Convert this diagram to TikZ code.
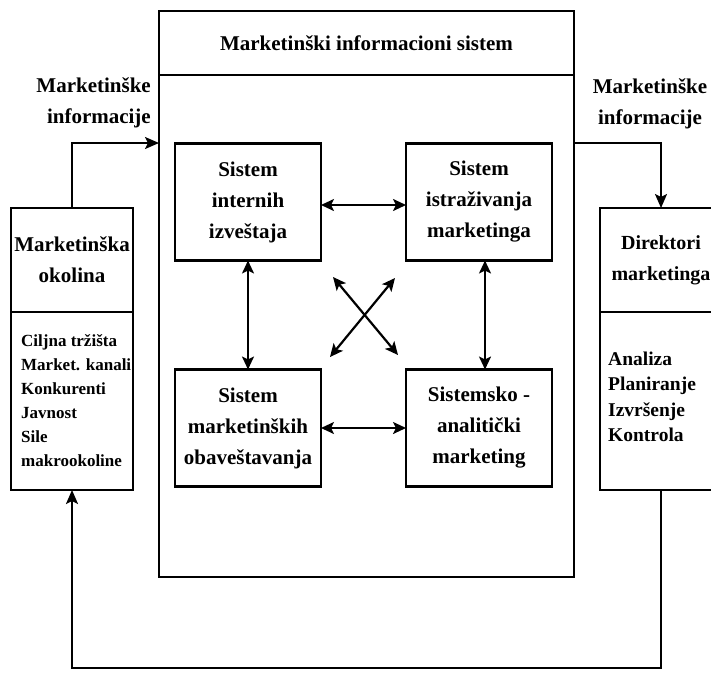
\documentclass[tikz,border=0pt]{standalone}
\usepackage{fontspec}
\setmainfont{Liberation Serif}
\usetikzlibrary{arrows.meta,positioning}

\begin{document}
\begin{tikzpicture}[
    x=1pt,y=-1pt,
    box/.style={draw=black,line width=2.4pt,inner sep=0pt,outer sep=0pt,align=center,font=\bfseries\fontsize{21}{31}\selectfont},
    sys/.style={box,minimum width=146pt,minimum height=117pt},
    side/.style={box,minimum width=122pt,minimum height=104pt},
    lst/.style={draw=black,line width=2.4pt,minimum width=122pt,minimum height=178pt,inner sep=0pt,outer sep=0pt},
    lsttext/.style={anchor=west,inner sep=0pt,align=left,font=\bfseries\fontsize{17}{24}\selectfont},
    lbl/.style={inner sep=0pt,font=\bfseries\fontsize{21}{31}\selectfont},
    e/.style={-{Stealth[length=14pt,width=12pt,inset=3pt]},line width=2.2pt,black},
    ee/.style={{Stealth[length=13pt,width=12pt,inset=3pt]}-{Stealth[length=13pt,width=12pt,inset=3pt]},line width=2.2pt,black}
  ]
    \useasboundingbox (0,0) rectangle (711,675);
    \clip (0,0) rectangle (711,675);
    % marketinski informacioni sistem
    \node[box,minimum width=415pt,minimum height=64pt] (mis) at (366.5,43) {Marketinški informacioni sistem};
    \node[box,minimum width=415pt,minimum height=502pt,below=0pt of mis] (misbody) {};
    \node[sys] (int) at (248,202) {Sistem\\internih\\izveštaja};
    \node[sys] (ist) at (479,202) {Sistem\\istraživanja\\marketinga};
    \node[sys] (oba) at (248,428) {Sistem\\marketinških\\obaveštavanja};
    \node[sys] (sam) at (479,428) {Sistemsko -\\analitički\\marketing};
    \coordinate (c1) at (333,277); \coordinate (c2) at (398,355);
    \coordinate (c3) at (395,278); \coordinate (c4) at (330,357);
    \draw[ee] ([yshift=-3pt]int.east)--([yshift=-3pt]ist.west); \draw[ee] (oba.east)--(sam.west);
    \draw[ee] (int.south)--(oba.north); \draw[ee] ([xshift=6pt]ist.south)--([xshift=6pt]sam.north);
    \draw[ee] (c1)--(c2); \draw[ee] (c3)--(c4);
    % okolina i direktori
    \node[side] (okolina) at (72,260) {Marketinška\\okolina};
    \node[lst,below=0pt of okolina] (okolinalist) {};
    \node[lsttext] (okolinatext) at ([xshift=10pt]okolinalist.west) {Ciljna tržišta\\Market. kanali\\Konkurenti\\Javnost\\Sile\\makrookoline};
    \node[side,font=\bfseries\fontsize{20}{31}\selectfont] (direktori) at (661,260) {Direktori\\marketinga};
    \node[lst,below=0pt of direktori] (direktorilist) {};
    \node[lsttext,font=\bfseries\fontsize{19.5}{25.5}\selectfont] (direktoritext) at ([xshift=8pt,yshift=4pt]direktorilist.west) {Analiza\\Planiranje\\Izvršenje\\Kontrola};
    \node[lbl,align=right,anchor=east] (infoL) at (151,103) {Marketinške\\informacije};
    \node[lbl,align=center] (infoR) at (650,104) {Marketinške\\informacije};
    \coordinate (inL) at (misbody.west |- 0,143);
    \coordinate (outR) at (misbody.east |- 0,143);
    \draw[e] (okolina.north) |- (inL);
    \draw[e] (outR) -| (direktori.north);
    \draw[e] (direktorilist.south) -- ++(0,178) -| (okolinalist.south);
  \end{tikzpicture}
\end{document}
